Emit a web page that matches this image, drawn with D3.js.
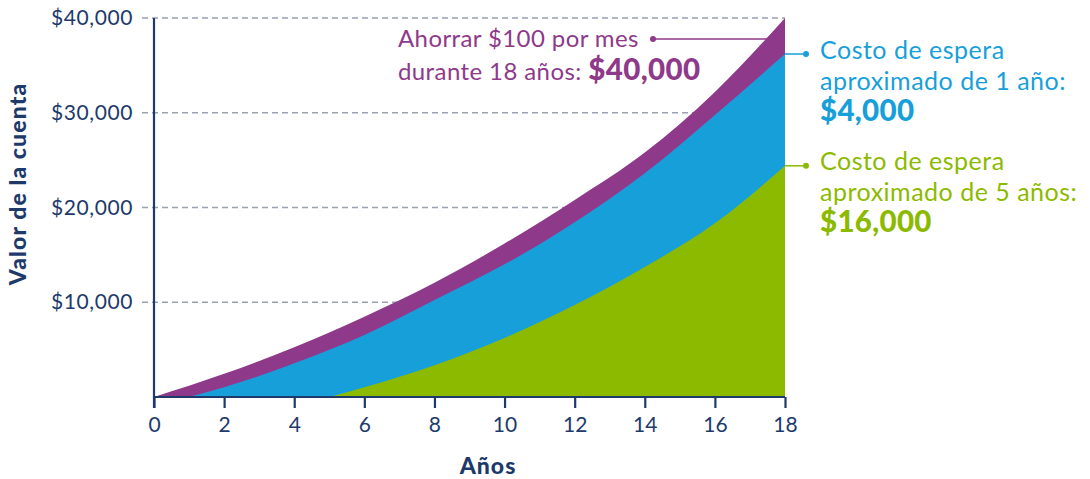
<!DOCTYPE html>
<html>
<head>
<meta charset="utf-8">
<script src="https://cdn.jsdelivr.net/npm/d3@7"></script>
<style>
  html, body { margin: 0; padding: 0; background: #fff; }
  svg { display: block; font-family: "Lato", "Noto Sans", sans-serif; }
</style>
</head>
<body>
<svg id="chart" width="1090" height="479"></svg>
<script>
// ---- data ----
const purpleYears = [0, 2, 4, 6, 8, 10, 12, 14, 16, 18];
const purpleValues = [0, 2450, 5250, 8480, 12060, 16200, 20800, 25800, 32200, 40000];

const blueYears = [1, 2, 4, 6, 8, 10, 12, 14, 16, 18];
const blueValues = [0, 1020, 3550, 6540, 10240, 14000, 18440, 23610, 29760, 36200];

const greenYears = [5, 6, 8, 10, 12, 14, 16, 18];
const greenValues = [0, 1020, 3350, 6230, 9710, 13720, 18330, 24400];

const xTicks = [0, 2, 4, 6, 8, 10, 12, 14, 16, 18];
const yTicks = [10000, 20000, 30000, 40000];
const yTickLabels = ["$10,000", "$20,000", "$30,000", "$40,000"];

const xTitle = "Años";
const yTitle = "Valor de la cuenta";
const purpleNote = ["Ahorrar $100 por mes", "durante 18 años: "];
const purpleNoteBold = "$40,000";
const blueNote = ["Costo de espera", "aproximado de 1 año:"];
const blueNoteBold = "$4,000";
const greenNote = ["Costo de espera", "aproximado de 5 años:"];
const greenNoteBold = "$16,000";

// ---- styles ----
const C = {
  purple: "#8f398a",
  blue: "#179fda",
  green: "#8cba00",
  navy: "#1d3a6b",
  grid: "#9ba0b3"
};

const svg = d3.select("#chart");
const x = d3.scaleLinear().domain([0, 18]).range([154, 785]);
const y = d3.scaleLinear().domain([0, 40000]).range([397, 18]);

// gridlines
const grid = svg.append("g");
grid.selectAll("line").data(yTicks).join("line")
  .attr("x1", 142).attr("x2", x(18))
  .attr("y1", d => y(d)).attr("y2", d => y(d))
  .attr("stroke", C.grid).attr("stroke-width", 1.6)
  .attr("stroke-dasharray", "6,4");

// leader lines (drawn under the areas)
const leaders = svg.append("g");
const purpleLeaderY = 39;
leaders.append("line")
  .attr("x1", 653).attr("x2", x(17.8))
  .attr("y1", purpleLeaderY).attr("y2", purpleLeaderY)
  .attr("stroke", C.purple).attr("stroke-width", 1.5);
leaders.append("circle").attr("cx", 653).attr("cy", purpleLeaderY).attr("r", 3).attr("fill", C.purple);

const blueEnd = blueValues[blueValues.length - 1];
const greenEnd = greenValues[greenValues.length - 1];
leaders.append("line")
  .attr("x1", x(18) - 2).attr("x2", 806)
  .attr("y1", y(blueEnd)).attr("y2", y(blueEnd))
  .attr("stroke", C.blue).attr("stroke-width", 1.5);
leaders.append("circle").attr("cx", 806).attr("cy", y(blueEnd)).attr("r", 3).attr("fill", C.blue);
leaders.append("line")
  .attr("x1", x(18) - 2).attr("x2", 806)
  .attr("y1", y(greenEnd)).attr("y2", y(greenEnd))
  .attr("stroke", C.green).attr("stroke-width", 1.5);
leaders.append("circle").attr("cx", 806).attr("cy", y(greenEnd)).attr("r", 3).attr("fill", C.green);

// areas
function makeArea(years, vals) {
  const pts = years.map((t, i) => [t, vals[i]]);
  return d3.area()
    .x(d => x(d[0]))
    .y0(y(0))
    .y1(d => y(d[1]))
    .curve(d3.curveMonotoneX)(pts);
}
const areas = svg.append("g");
areas.append("path").attr("d", makeArea(purpleYears, purpleValues)).attr("fill", C.purple);
areas.append("path").attr("d", makeArea(blueYears, blueValues)).attr("fill", C.blue);
areas.append("path").attr("d", makeArea(greenYears, greenValues)).attr("fill", C.green);

// x axis
const xAxis = svg.append("g").attr("transform", `translate(0,${y(0)})`)
  .call(d3.axisBottom(x).tickValues(xTicks).tickSize(11).tickPadding(9).tickFormat(d3.format("d")));
xAxis.select(".domain").attr("stroke", C.navy).attr("stroke-width", 2.2).attr("d", `M${x(0)},0H${x(18)}`);
xAxis.selectAll(".tick line").attr("stroke", C.navy).attr("stroke-width", 2.2);
xAxis.selectAll(".tick text").attr("fill", C.navy).attr("font-size", 21).attr("font-family", "Lato, sans-serif");

// y axis
const yAxis = svg.append("g").attr("transform", `translate(${x(0)},0)`)
  .call(d3.axisLeft(y).tickValues(yTicks).tickSize(0).tickPadding(21)
    .tickFormat((d, i) => yTickLabels[i]));
yAxis.select(".domain").attr("stroke", C.navy).attr("stroke-width", 2.2).attr("d", `M0,${y(40000)}V${y(0) + 11}`);
yAxis.selectAll(".tick text").attr("fill", C.navy).attr("font-size", 21)
  .attr("letter-spacing", 0.6).attr("font-family", "Lato, sans-serif");

// axis titles
svg.append("text").attr("x", 488).attr("y", 474).attr("text-anchor", "middle")
  .attr("fill", C.navy).attr("font-weight", 900).attr("font-size", 23).attr("letter-spacing", 1)
  .text(xTitle);
svg.append("text").attr("transform", `translate(26,${184}) rotate(-90)`).attr("text-anchor", "middle")
  .attr("fill", C.navy).attr("font-weight", 900).attr("font-size", 23).attr("letter-spacing", 1.1)
  .text(yTitle);

// annotations
const pn = svg.append("g").attr("fill", C.purple).attr("font-size", 24).attr("letter-spacing", 0.4);
pn.append("text").attr("x", 398).attr("y", 47).text(purpleNote[0]);
const pl2 = pn.append("text").attr("x", 398).attr("y", 80);
pl2.append("tspan").text(purpleNote[1]);
pl2.append("tspan").attr("font-weight", 900).attr("font-size", 29.5).text(purpleNoteBold);

function sideNote(lines, bold, color, y0) {
  const g = svg.append("g").attr("fill", color).attr("font-size", 25).attr("letter-spacing", 0.5);
  g.append("text").attr("x", 820).attr("y", y0).text(lines[0]);
  g.append("text").attr("x", 820).attr("y", y0 + 31).text(lines[1]);
  g.append("text").attr("x", 820).attr("y", y0 + 62).attr("font-weight", 900).attr("font-size", 29.5)
    .attr("letter-spacing", 0.3).text(bold);
}
sideNote(blueNote, blueNoteBold, C.blue, 59);
sideNote(greenNote, greenNoteBold, C.green, 170);
</script>
</body>
</html>
